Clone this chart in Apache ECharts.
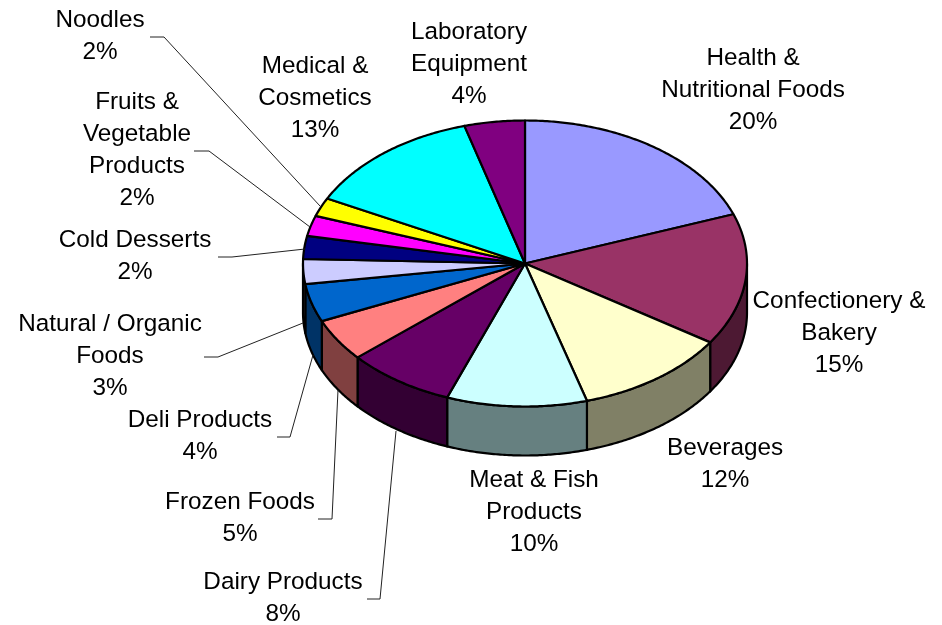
<!DOCTYPE html>
<html>
<head>
<meta charset="utf-8">
<style>html,body{margin:0;padding:0;background:#fff}#c{width:942px;height:625px}</style>
<script src="https://cdn.jsdelivr.net/npm/echarts@6/dist/echarts.min.js"></script>
</head>
<body>
<div id="c"></div>
<script>
const categories = ['Health &\nNutritional Foods','Confectionery &\nBakery','Beverages','Meat & Fish\nProducts','Dairy Products','Frozen Foods','Deli Products','Natural / Organic\nFoods','Cold Desserts','Fruits &\nVegetable\nProducts','Noodles','Medical &\nCosmetics','Laboratory\nEquipment'];
const percentLabels = ['20%','15%','12%','10%','8%','5%','4%','3%','2%','2%','2%','13%','4%'];
const sliceShares = [19.4,14.9,11.2,10.2,7.9,4.8,4.3,2.8,2.6,2.3,2.1,13.1,4.4];

const topColors = ['#9999FF','#993366','#FFFFCC','#CCFFFF','#660066','#FF8080','#0066CC','#CCCCFF','#000080','#FF00FF','#FFFF00','#00FFFF','#800080'];
const sideColors = ['#4D4D80','#4D1933','#808066','#668080','#330033','#804040','#003366','#666680','#000040','#800080','#808000','#008080','#400040'];

const pieLayout = {cx:525, cy:263.5, rx:222, ry:143, depth:49};
const labelCentres = [[753,90],[839,333],[725,464],[534,512],[283,598],[240,518],[200,436],[110,356],[135,256],[137,150],[100,36],[315,98],[469,64]];
const leaderPaths = {
  4:[[367,599],[380,599],[396,431]],
  5:[[318,519],[332,519],[338,390]],
  6:[[277,437],[290,437],[313,355]],
  7:[[204,357],[218,357],[303,323]],
  8:[[218,257],[232,257],[305,249]],
  9:[[194,151],[209,151],[310,227]],
  10:[[150,37],[164,37],[320,206]]
};

const total = sliceShares.reduce((a,b)=>a+b,0);
const starts = [];
sliceShares.reduce((acc,v,i)=>{starts[i]=acc;return acc+v;},0);

function pt(theta, dz){
  return [pieLayout.cx + pieLayout.rx*Math.sin(theta), pieLayout.cy - pieLayout.ry*Math.cos(theta) + (dz||0)];
}
function arc(a0,a1,dz){
  const n = Math.max(2, Math.ceil(Math.abs(a1-a0)/0.01));
  const out = [];
  for(let k=0;k<=n;k++) out.push(pt(a0+(a1-a0)*k/n,dz));
  return out;
}

function renderItem(params, api){
  const i = api.value(0);
  const share = api.value(1);
  const a0 = starts[i]/total*2*Math.PI;
  const a1 = (starts[i]+share)/total*2*Math.PI;
  const children = [];
  // front wall: only the portion of the rim between 90deg and 270deg faces the viewer
  const s0 = Math.max(a0, Math.PI/2), s1 = Math.min(a1, 1.5*Math.PI);
  if(s1>s0){
    const pts = arc(s0,s1,0).concat(arc(s1,s0,pieLayout.depth));
    children.push({type:'polygon',z2:1,shape:{points:pts},
      style:{fill:sideColors[i],stroke:'#000',lineWidth:2.2,lineJoin:'round'}});
  }
  // top face
  const facePts = [[pieLayout.cx,pieLayout.cy]].concat(arc(a0,a1,0));
  children.push({type:'polygon',z2:2,shape:{points:facePts},
    style:{fill:topColors[i],stroke:'#000',lineWidth:2.2,lineJoin:'round'}});
  // leader
  if(leaderPaths[i]){
    children.push({type:'polyline',z2:3,shape:{points:leaderPaths[i]},
      style:{fill:null,stroke:'#222',lineWidth:1}});
  }
  // label
  children.push({type:'text',z2:4,x:labelCentres[i][0],y:labelCentres[i][1],
    style:{text:categories[i]+'\n'+percentLabels[i],align:'center',verticalAlign:'middle',
      lineHeight:32,fontFamily:'"Liberation Sans",Arial,sans-serif',fontSize:24.3,fill:'#000'}});
  return {type:'group',children};
}

const chart = echarts.init(document.getElementById('c'),null,{renderer:'canvas'});
chart.setOption({
  animation:false,
  backgroundColor:'#fff',
  series:[{type:'custom',coordinateSystem:'none',renderItem,
    data:sliceShares.map((v,i)=>[i,v]),silent:true}]
});
</script>
</body>
</html>
